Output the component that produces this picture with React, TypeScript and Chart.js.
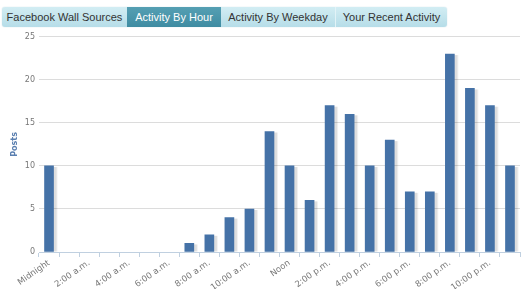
import React, { useEffect, useRef } from "react";
import { Chart, registerables } from "chart.js";

Chart.register(...registerables);

const hours = [
  "Midnight", "1:00 a.m.", "2:00 a.m.", "3:00 a.m.", "4:00 a.m.", "5:00 a.m.",
  "6:00 a.m.", "7:00 a.m.", "8:00 a.m.", "9:00 a.m.", "10:00 a.m.", "11:00 a.m.",
  "Noon", "1:00 p.m.", "2:00 p.m.", "3:00 p.m.", "4:00 p.m.", "5:00 p.m.",
  "6:00 p.m.", "7:00 p.m.", "8:00 p.m.", "9:00 p.m.", "10:00 p.m.", "11:00 p.m.",
];
const posts = [10, 0, 0, 0, 0, 0, 0, 1, 2, 4, 5, 14, 10, 6, 17, 16, 10, 13, 7, 7, 23, 19, 17, 10];
const tabs = ["Facebook Wall Sources", "Activity By Hour", "Activity By Weekday", "Your Recent Activity"];
const activeTab = 1;
const yTitle = "Posts";

const tabWidths = [125, 94, 115, 111];

const shadowPlugin = {
  id: "barShadow",
  beforeDatasetDraw(chart: any, args: any) {
    const ctx = chart.ctx;
    const meta = args.meta;
    ctx.save();
    meta.data.forEach((bar: any, i: number) => {
      const v = chart.data.datasets[args.index].data[i];
      if (!v) return;
      const { x, y, base, width } = bar.getProps(["x", "y", "base", "width"], true);
      const left = x - width / 2;
      ctx.fillStyle = "rgba(0,0,0,0.06)";
      ctx.fillRect(left + 1, y + 1, width + 3, base - y - 1);
      ctx.fillStyle = "rgba(0,0,0,0.08)";
      ctx.fillRect(left + 1, y + 1, width + 2, base - y - 1);
    });
    ctx.restore();
  },
};

export default function App() {
  const ref = useRef<HTMLCanvasElement>(null);

  useEffect(() => {
    document.body.style.margin = "0";
    const chart = new Chart(ref.current!, {
      type: "bar",
      data: {
        labels: hours,
        datasets: [
          {
            data: posts,
            backgroundColor: (c: any) => (c.raw ? "#4572A7" : "rgba(0,0,0,0)"),
            barThickness: 9,
            borderWidth: 0,
          },
        ],
      },
      plugins: [shadowPlugin],
      options: {
        animation: false,
        responsive: false,
        layout: { padding: { left: 0, right: 7, top: 6, bottom: 0 } },
        plugins: { legend: { display: false }, tooltip: { enabled: false } },
        scales: {
          x: {
            grid: {
              drawOnChartArea: false,
              drawTicks: true,
              tickLength: 5,
              color: "#C0D0E0",
              offset: true,
            },
            border: { color: "#C0D0E0" },
            ticks: {
              autoSkip: false,
              maxRotation: 35,
              minRotation: 35,
              padding: 1,
              color: "#777",
              font: { family: "DejaVu Sans", size: 8.5 },
              callback: (v: any, i: number) => (i % 2 === 0 ? hours[i] : ""),
            },
            afterFit: (s: any) => {
              s.height = 37;
            },
          },
          y: {
            min: 0,
            max: 25,
            ticks: {
              stepSize: 5,
              padding: 4,
              color: "#777",
              font: { family: "DejaVu Sans", size: 8 },
            },
            grid: {
              drawTicks: false,
              color: (c: any) => (c.tick && c.tick.value === 0 ? "rgba(0,0,0,0)" : "#dcdcdc"),
            },
            border: { display: false },
            title: {
              display: true,
              text: yTitle,
              color: "#5a7fb0",
              font: { family: "DejaVu Sans", size: 8, weight: "bold" },
              padding: { top: 10, bottom: 0 },
            },
            afterFit: (s: any) => {
              s.width = 39;
            },
          },
        },
      },
    });
    return () => chart.destroy();
  }, []);

  return (
    <div style={{ position: "absolute", left: 0, top: 0, width: 527, height: 289, background: "#fff", overflow: "hidden" }}>
      <div
        style={{
          position: "absolute",
          left: 2,
          top: 7,
          height: 20,
          display: "flex",
          borderRadius: 3,
          overflow: "hidden",
          boxShadow: "0 0 1px rgba(120,170,190,0.6)",
        }}
      >
        {tabs.map((t, i) => (
          <div
            key={t}
            style={{
              width: tabWidths[i],
              height: 20,
              boxSizing: "border-box",
              display: "flex",
              alignItems: "center",
              justifyContent: "center",
              fontFamily: "Liberation Sans, Arial, sans-serif",
              fontSize: 11,
              color: i === activeTab ? "#ffffff" : "#333333",
              background:
                i === activeTab
                  ? "linear-gradient(#559fb3, #3f8ca2)"
                  : "linear-gradient(#d2edf3, #b6dde8)",
              borderRight: i < tabs.length - 1 && i !== activeTab && i + 1 !== activeTab ? "1px solid #e2f3f7" : "none",
            }}
          >
            {t}
          </div>
        ))}
      </div>
      <canvas ref={ref} width={527} height={261} style={{ position: "absolute", left: 0, top: 28, width: 527, height: 261 }} />
    </div>
  );
}
